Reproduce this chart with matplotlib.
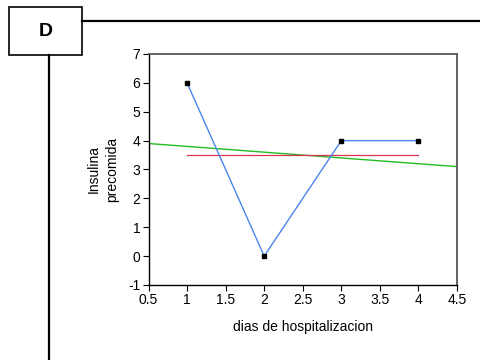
import matplotlib.pyplot as plt
import numpy as np
from matplotlib.patches import Rectangle

plt.rcParams['font.family'] = ['Liberation Sans', 'DejaVu Sans']
plt.rcParams['axes.unicode_minus'] = False

# datos del panel D
dias = [1, 2, 3, 4]
insulina = [6, 0, 4, 4]

x_ticks = [0.5, 1, 1.5, 2, 2.5, 3, 3.5, 4, 4.5]
x_tick_labels = ['0.5', '1', '1.5', '2', '2.5', '3', '3.5', '4', '4.5']
y_ticks = [-1, 0, 1, 2, 3, 4, 5, 6, 7]

fig = plt.figure(figsize=(4.8, 3.6), dpi=100)

# marco del panel: caja con la letra y lineas guia
fig.add_artist(Rectangle((9 / 480, 1 - 55 / 360), 73 / 480, 48 / 360,
                         transform=fig.transFigure, fill=False,
                         edgecolor='black', linewidth=1.2))
fig.text(45.5 / 480, 1 - 31 / 360, 'D', ha='center', va='center',
         fontsize=14, fontweight='bold')
fig.add_artist(plt.Line2D([82 / 480, 1], [1 - 21 / 360, 1 - 21 / 360],
                          transform=fig.transFigure, color='black', linewidth=1.6))
fig.add_artist(plt.Line2D([49 / 480, 49 / 480], [1 - 55 / 360, 0],
                          transform=fig.transFigure, color='black', linewidth=1.6))

ax = fig.add_axes([148.5 / 480, 1 - 285 / 360, 308.5 / 480, 231 / 360])

# recta de regresion y media
pend, ord0 = np.polyfit(dias, insulina, 1)
xr = np.array([0.5, 4.5])
ax.plot(xr, pend * xr + ord0, color='#22bb22', linewidth=1.0)
media = np.mean(insulina)
ax.plot([dias[0], dias[-1]], [media, media], color='#dd3350', linewidth=0.9)

ax.plot(dias, insulina, color='#4a86f0', linewidth=1.0)
ax.plot(dias, insulina, 's', color='black', markersize=3.5)

ax.set_xlim(0.5, 4.5)
ax.set_ylim(-1, 7)
ax.set_xticks(x_ticks)
ax.set_xticklabels(x_tick_labels)
ax.set_yticks(y_ticks)
ax.tick_params(direction='out', length=4, width=0.8, labelsize=10, pad=2)

for lado in ['left', 'bottom']:
    ax.spines[lado].set_color('black')
    ax.spines[lado].set_linewidth(1.0)
for lado in ['top', 'right']:
    ax.spines[lado].set_color('#555555')
    ax.spines[lado].set_linewidth(1.3)

ax.set_xlabel('dias de hospitalizacion', fontsize=10, labelpad=9)
ax.set_ylabel('Insulina\nprecomida', fontsize=10, labelpad=6, linespacing=1.4)

plt.savefig('out.png', dpi=100)
